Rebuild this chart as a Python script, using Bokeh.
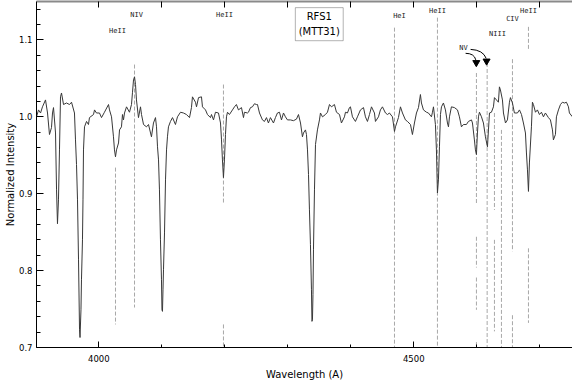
from bokeh.plotting import figure
from bokeh.models import (LinearAxis, SingleIntervalTicker, PrintfTickFormatter,
                          CustomJSTickFormatter, Label, Range1d, BoxAnnotation)
from bokeh.embed import file_html
from bokeh.resources import INLINE

# ---- spectrum (wavelength in Angstrom, normalized intensity) ----
wavelength = [
    3901.1, 3904.3, 3907.5, 3910.6, 3915.4, 3918.6, 3921.7, 3924.9, 3926.5, 3928.1,
    3931.3, 3932.9, 3934.4, 3936.0, 3937.6, 3939.2, 3940.8, 3944.0, 3948.7, 3953.5,
    3956.7, 3961.4, 3963.0, 3964.6, 3966.2, 3967.8, 3969.4, 3970.2, 3971.7, 3972.5,
    3974.1, 3974.9, 3975.7, 3977.3, 3980.5, 3983.6, 3985.2, 3991.6, 3993.2, 3996.3,
    4001.1, 4004.3, 4009.0, 4015.4, 4017.0, 4020.2, 4023.3, 4024.9, 4026.5, 4028.1,
    4031.3, 4032.9, 4036.0, 4037.6, 4039.2, 4040.8, 4044.0, 4048.7, 4051.9, 4053.5,
    4055.1, 4056.7, 4058.3, 4059.8, 4063.0, 4066.2, 4067.8, 4071.0, 4075.7, 4078.9,
    4083.6, 4086.8, 4090.0, 4091.6, 4093.2, 4094.8, 4096.3, 4097.9, 4099.5, 4100.3,
    4101.1, 4101.9, 4102.7, 4104.3, 4105.9, 4107.5, 4109.0, 4110.6, 4113.8, 4117.0,
    4121.7, 4124.9, 4129.7, 4134.4, 4139.2, 4144.0, 4147.1, 4148.7, 4153.5, 4155.1,
    4158.3, 4163.0, 4164.6, 4169.4, 4172.5, 4177.3, 4178.9, 4182.1, 4185.2, 4190.0,
    4193.2, 4194.8, 4196.3, 4197.9, 4199.5, 4201.1, 4202.7, 4204.3, 4207.4, 4212.2,
    4215.4, 4218.5, 4221.7, 4226.5, 4229.7, 4231.2, 4236.0, 4237.6, 4240.8, 4243.9,
    4247.1, 4250.3, 4251.9, 4255.1, 4259.8, 4263.0, 4266.2, 4269.3, 4272.5, 4277.3,
    4280.4, 4283.6, 4286.8, 4290.0, 4293.2, 4296.3, 4299.5, 4304.3, 4309.0, 4313.8,
    4317.0, 4320.2, 4323.3, 4324.9, 4328.1, 4329.7, 4331.3, 4332.9, 4334.4, 4336.0,
    4337.6, 4338.4, 4339.2, 4340.0, 4340.8, 4342.4, 4344.0, 4347.1, 4350.3, 4351.9,
    4355.1, 4359.8, 4363.0, 4366.2, 4369.4, 4374.1, 4377.3, 4382.1, 4385.2, 4390.0,
    4391.6, 4394.7, 4397.9, 4399.5, 4402.7, 4407.4, 4410.6, 4415.4, 4420.2, 4423.3,
    4426.5, 4429.7, 4432.9, 4437.6, 4439.2, 4444.0, 4447.1, 4450.3, 4455.1, 4458.3,
    4461.4, 4466.2, 4469.4, 4471.0, 4475.7, 4478.9, 4482.1, 4486.8, 4490.0, 4494.8,
    4497.9, 4501.1, 4504.3, 4507.5, 4510.6, 4512.2, 4515.4, 4520.2, 4523.3, 4528.1,
    4529.7, 4531.3, 4534.4, 4536.0, 4537.6, 4539.2, 4540.8, 4542.4, 4544.0, 4547.1,
    4550.3, 4553.5, 4555.1, 4556.7, 4559.8, 4564.6, 4569.4, 4572.5, 4575.7, 4578.9,
    4583.6, 4586.8, 4591.6, 4593.2, 4596.3, 4597.9, 4599.5, 4601.1, 4602.7, 4604.3,
    4607.5, 4610.6, 4613.8, 4617.0, 4618.6, 4620.2, 4623.3, 4626.5, 4628.1, 4631.3,
    4634.4, 4636.0, 4637.6, 4640.8, 4642.4, 4645.6, 4648.7, 4651.9, 4653.5, 4656.7,
    4659.8, 4664.6, 4667.8, 4671.0, 4674.1, 4677.3, 4678.9, 4680.5, 4682.1, 4683.6,
    4686.8, 4688.4, 4690.0, 4693.2, 4696.3, 4699.5, 4702.7, 4705.9, 4709.0, 4713.8,
    4717.0, 4720.2, 4721.7, 4724.9, 4726.5, 4729.7, 4732.9, 4736.0, 4739.2, 4742.4,
    4745.6, 4747.1, 4751.9,
]
intensity = [
    1.000, 1.009, 1.005, 1.013, 1.022, 1.005, 0.977, 0.986, 1.005, 1.012,
    0.979, 0.905, 0.861, 0.892, 0.957, 1.026, 1.031, 1.016, 1.018, 1.016,
    1.019, 1.005, 0.970, 0.938, 0.892, 0.814, 0.723, 0.713, 0.749, 0.788,
    0.840, 0.892, 0.957, 0.987, 0.994, 0.990, 0.999, 1.003, 1.009, 1.005,
    1.005, 0.999, 1.006, 1.016, 1.009, 1.000, 0.974, 0.957, 0.948, 0.957,
    0.966, 0.983, 0.987, 1.003, 0.996, 1.005, 1.013, 1.006, 1.016, 1.032,
    1.048, 1.052, 1.042, 1.022, 0.999, 1.013, 1.003, 0.990, 0.987, 0.990,
    0.974, 0.992, 0.999, 0.987, 0.961, 0.944, 0.905, 0.840, 0.788, 0.749,
    0.747, 0.775, 0.801, 0.849, 0.918, 0.957, 0.974, 0.987, 0.994, 0.999,
    0.990, 1.000, 1.006, 1.005, 1.003, 0.999, 1.012, 1.026, 1.019, 1.013,
    1.025, 1.026, 1.013, 1.009, 1.003, 0.999, 1.003, 0.996, 1.006, 1.005,
    0.992, 0.970, 0.944, 0.921, 0.944, 0.977, 1.000, 1.006, 1.003, 1.009,
    1.013, 1.016, 1.009, 1.012, 0.999, 1.006, 1.005, 1.006, 1.012, 1.013,
    1.017, 1.016, 1.016, 1.005, 0.996, 0.994, 0.999, 0.992, 0.999, 0.992,
    0.999, 1.005, 1.006, 0.996, 1.005, 1.000, 0.996, 0.996, 0.995, 0.997,
    1.003, 0.992, 0.974, 0.979, 0.983, 0.977, 0.957, 0.925, 0.879, 0.834,
    0.775, 0.734, 0.736, 0.769, 0.827, 0.905, 0.964, 0.983, 0.996, 1.005,
    1.000, 1.003, 1.006, 1.016, 1.013, 1.016, 1.006, 1.003, 0.992, 1.000,
    1.006, 1.005, 1.012, 1.013, 1.000, 0.994, 1.000, 1.009, 1.012, 1.000,
    0.994, 1.003, 1.013, 1.005, 0.994, 1.000, 1.009, 1.013, 1.005, 1.003,
    1.005, 1.000, 0.981, 0.987, 0.999, 1.013, 1.005, 0.996, 0.994, 0.990,
    0.977, 0.992, 1.005, 1.012, 1.029, 1.018, 1.009, 1.006, 1.005, 1.000,
    1.006, 1.013, 0.990, 0.957, 0.901, 0.918, 0.961, 1.003, 1.013, 1.018,
    1.009, 0.992, 0.987, 1.000, 1.013, 1.012, 1.009, 1.000, 0.987, 0.990,
    0.990, 0.994, 0.996, 0.992, 0.970, 0.957, 0.951, 0.979, 1.000, 1.006,
    1.000, 0.992, 0.974, 0.961, 0.983, 1.005, 1.006, 1.013, 1.025, 1.022,
    1.019, 1.039, 1.035, 1.022, 1.005, 0.992, 0.996, 1.019, 1.025, 1.018,
    1.005, 1.005, 1.009, 1.003, 0.992, 0.979, 0.953, 0.931, 0.903, 0.940,
    0.987, 1.019, 1.016, 1.006, 1.009, 1.003, 1.006, 1.000, 1.005, 0.999,
    0.996, 0.983, 0.970, 0.977, 1.000, 1.009, 1.016, 1.019, 1.018, 1.019,
    1.013, 1.005, 1.000,
]

# ---- line identification marks (dashed segments) ----
seg_wl = [4026.5, 4056.7, 4197.9, 4197.9, 4469.4, 4537.6,
          4599.5, 4599.5, 4599.5, 4599.5, 4616.5, 4628.1, 4628.1,
          4639.2, 4656.7, 4656.7, 4682.1, 4682.1]
seg_top = [0.934, 1.068, 1.042, 0.730, 1.116, 1.129,
           1.057, 0.844, 0.791, 0.707, 1.070, 1.005, 0.840,
           0.983, 1.075, 0.742, 1.117, 0.829]
seg_bot = [0.730, 0.752, 0.886, 0.700, 0.700, 0.700,
           0.886, 0.804, 0.749, 0.700, 0.700, 0.879, 0.721,
           0.700, 0.825, 0.700, 1.087, 0.732]

# ---- line labels ----
line_names = ["HeII", "NIV", "HeII", "HeI", "HeII", "NV", "NIII", "CIV", "HeII"]
line_label_wl = [4029.7, 4060.0, 4199.5, 4477.3, 4537.6, 4578.9, 4632.8, 4656.7, 4682.1]

FONT = "DejaVu Sans"
LFONT = "DejaVu Sans Mono"

p = figure(width=572, height=382, output_backend="svg", toolbar_location=None,
           x_range=Range1d(3901.1, 4752), y_range=Range1d(0.7, 1.15),
           min_border_left=36, min_border_right=0, min_border_top=1,
           min_border_bottom=34)
p.grid.visible = False
p.outline_line_color = None
p.background_fill_color = "white"
p.border_fill_color = "white"

# bottom axis
xa = p.xaxis[0]
xa.ticker = SingleIntervalTicker(interval=500, num_minor_ticks=5)
xa.formatter = PrintfTickFormatter(format="%d")
xa.major_tick_in = 6
xa.major_tick_out = 0
xa.minor_tick_in = 3
xa.minor_tick_out = 0
xa.axis_line_color = "black"
xa.major_tick_line_color = "black"
xa.minor_tick_line_color = "black"
xa.major_label_standoff = 7
xa.major_label_text_font = FONT
xa.major_label_text_font_size = "8.5px"
xa.major_label_text_color = "black"
xa.axis_label = "Wavelength (A)"
xa.axis_label_standoff = 4
xa.axis_label_text_font = FONT
xa.axis_label_text_font_size = "10px"
xa.axis_label_text_font_style = "normal"
xa.axis_label_text_color = "black"

# left axis
ya = p.yaxis[0]
ya.ticker = SingleIntervalTicker(interval=0.1, num_minor_ticks=5)
ya.formatter = PrintfTickFormatter(format="%.1f")
ya.major_tick_in = 7
ya.major_tick_out = 0
ya.minor_tick_in = 4
ya.minor_tick_out = 0
ya.axis_line_color = "black"
ya.major_tick_line_color = "black"
ya.minor_tick_line_color = "black"
ya.major_label_standoff = 4
ya.major_label_text_font = FONT
ya.major_label_text_font_size = "8.5px"
ya.major_label_text_color = "black"
ya.axis_label = "Normalized Intensity"
ya.axis_label_standoff = 0
ya.axis_label_text_font = FONT
ya.axis_label_text_font_size = "10px"
ya.axis_label_text_font_style = "normal"
ya.axis_label_text_color = "black"

# top axis (grey line, inward ticks, no labels)
top = LinearAxis(ticker=SingleIntervalTicker(interval=100, num_minor_ticks=0),
                 formatter=CustomJSTickFormatter(code="return ''"),
                 major_tick_in=6, major_tick_out=0, minor_tick_in=0, minor_tick_out=0,
                 major_label_standoff=0,
                 axis_line_color="#8a8a8a", axis_line_width=2,
                 major_tick_line_color="black")
p.add_layout(top, "above")

# dashed identification lines
p.segment(x0=seg_wl, y0=seg_top, x1=seg_wl, y1=seg_bot,
          line_color="#a8a8a8", line_width=1, line_dash="4 2")

# spectrum
p.line(wavelength, intensity, line_color="#383838", line_width=1)

# star name box
box = BoxAnnotation(left=4312, right=4388, top=1.142, bottom=1.099,
                    fill_color="white", fill_alpha=1.0,
                    line_color="black", line_width=1)
p.add_layout(box)
for txt, yy in [("RFS1", 1.1305), ("(MTT31)", 1.111)]:
    p.add_layout(Label(x=4350, y=yy, text=txt, text_align="center",
                       text_baseline="middle", text_font=FONT,
                       text_font_size="10px", text_color="black"))

# line labels
label_y = [1.112, 1.133, 1.132, 1.1305, 1.138, 1.090, 1.108, 1.127, 1.138]
for txt, xx, yy in zip(line_names, line_label_wl, label_y):
    p.add_layout(Label(x=xx, y=yy, text=txt, text_align="center",
                       text_baseline="middle", text_font=LFONT,
                       text_font_size="7px", text_color="#222222"))

# curved arrows from NV label
p.quadratic(x0=[4582.3, 4590.2], y0=[1.0826, 1.0877],
            x1=[4598.5, 4615.0], y1=[1.0740, 1.0760],
            cx=[4596.0, 4610.0], cy=[1.0826, 1.0870],
            line_color="black", line_width=1)
p.scatter(x=[4599.3, 4615.6], y=[1.0705, 1.0725], marker="inverted_triangle",
          size=7, color="black")

open("out.html", "w").write(file_html(p, INLINE))
